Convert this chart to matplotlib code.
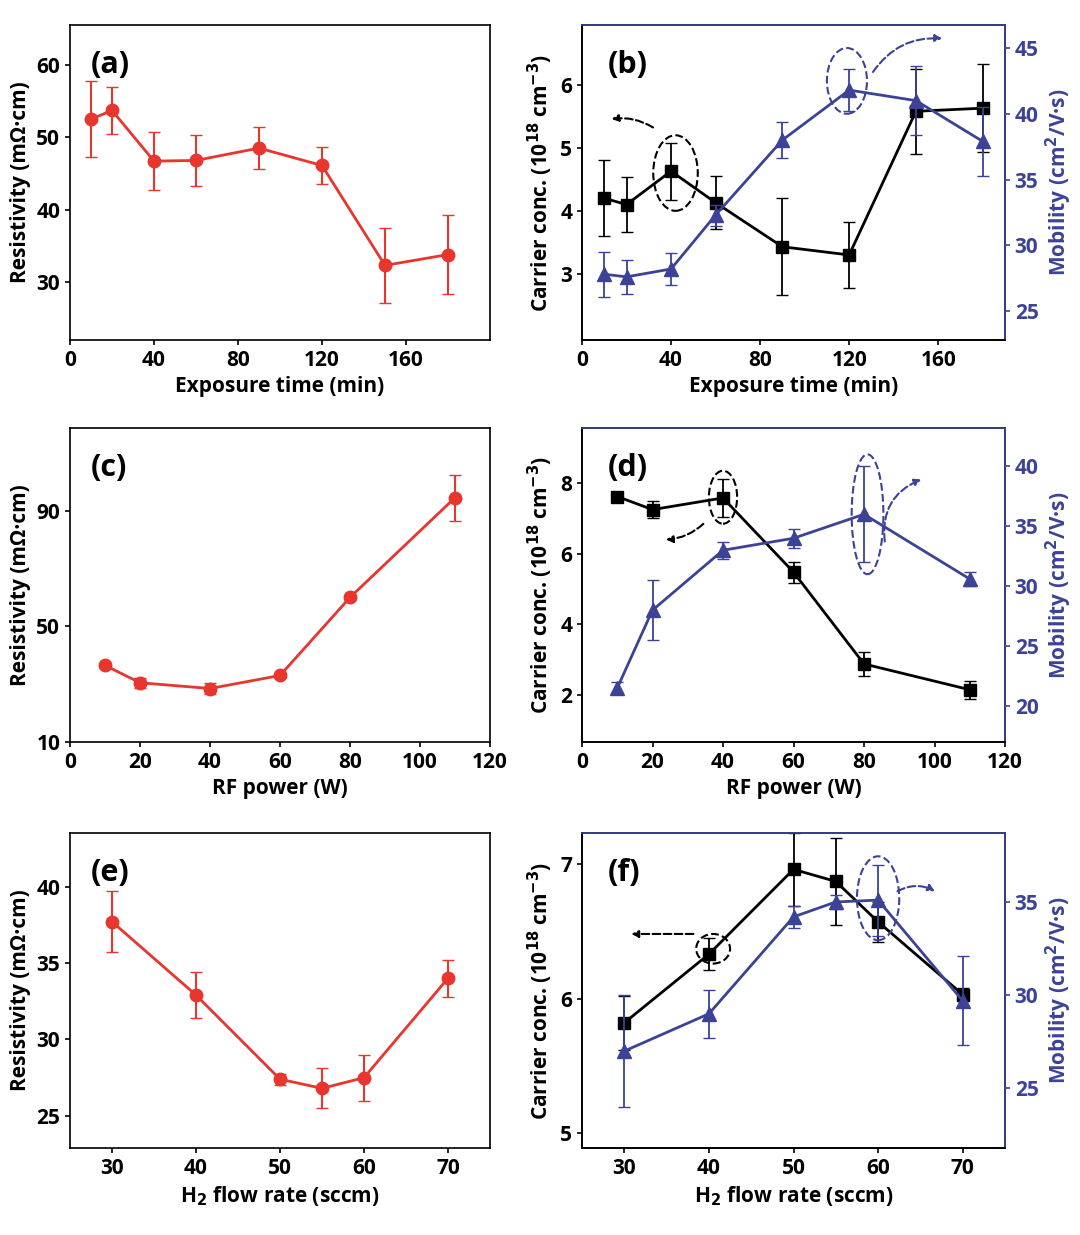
import matplotlib.pyplot as plt
from matplotlib.patches import Ellipse

plt.rcParams['font.family'] = ['Open Sans', 'DejaVu Sans']
plt.rcParams['font.weight'] = 'bold'
plt.rcParams['axes.labelweight'] = 'bold'

red = '#e8352e'
blue = '#3c4396'

# (a)/(b) exposure time
t_exp = [10, 20, 40, 60, 90, 120, 150, 180]
res_a = [52.5, 53.7, 46.7, 46.8, 48.5, 46.1, 32.3, 33.8]
res_a_err = [5.2, 3.2, 4.0, 3.5, 2.9, 2.5, 5.2, 5.4]
cc_b = [4.2, 4.1, 4.63, 4.13, 3.43, 3.3, 5.58, 5.63]
cc_b_err = [0.6, 0.43, 0.45, 0.42, 0.77, 0.52, 0.67, 0.7]
mob_b = [27.8, 27.6, 28.2, 32.3, 38.0, 41.8, 41.0, 37.9]
mob_b_err = [1.7, 1.3, 1.2, 0.8, 1.4, 1.6, 2.6, 2.6]

# (c)/(d) RF power
rf = [10, 20, 40, 60, 80, 110]
res_c = [36.5, 30.5, 28.5, 33.0, 60.0, 94.5]
res_c_err = [0.8, 1.8, 2.0, 0.8, 0.8, 8.0]
cc_d = [7.62, 7.25, 7.58, 5.48, 2.88, 2.15]
cc_d_err = [0.12, 0.25, 0.55, 0.3, 0.35, 0.25]
mob_d = [21.5, 28.0, 33.0, 34.0, 36.0, 30.6]
mob_d_err = [0.5, 2.5, 0.7, 0.8, 4.0, 0.6]

# (e)/(f) H2 flow
h2 = [30, 40, 50, 55, 60, 70]
res_e = [37.7, 32.9, 27.4, 26.8, 27.5, 34.0]
res_e_err = [2.0, 1.5, 0.35, 1.3, 1.5, 1.2]
cc_f = [5.82, 6.33, 6.96, 6.87, 6.57, 6.03]
cc_f_err = [0.2, 0.12, 0.27, 0.32, 0.15, 0.05]
mob_f = [27.0, 29.0, 34.2, 35.0, 35.1, 29.7]
mob_f_err = [3.0, 1.3, 0.6, 0.4, 1.9, 2.4]

fig = plt.figure(figsize=(10.8, 12.35), dpi=100)
W, H = 1080, 1235

def ax_at(x0, y0, x1, y1):
    return fig.add_axes([x0 / W, 1 - y1 / H, (x1 - x0) / W, (y1 - y0) / H])

rows = [(25, 340), (428, 742), (833, 1148)]
fs = 15

def style(ax):
    ax.tick_params(labelsize=fs, width=1.2, direction='out')
    for s in ax.spines.values():
        s.set_linewidth(1.2)

def left_panel(ax, x, y, e, label, xlabel, xlim, xticks, ylim, yticks):
    ax.errorbar(x, y, yerr=e, color=red, marker='o', ms=9, lw=2, capsize=4, elinewidth=1.5)
    ax.set_xlim(*xlim); ax.set_xticks(xticks)
    ax.set_ylim(*ylim); ax.set_yticks(yticks)
    ax.set_ylabel('Resistivity (mΩ·cm)', fontsize=fs)
    ax.set_xlabel(xlabel, fontsize=fs)
    ax.text(0.05, 0.92, label, transform=ax.transAxes, fontsize=22, va='top')
    style(ax)

def right_panel(ax, x, c, ce, m, me, label, xlabel, xlim, xticks, ylim, yticks, y2lim, y2ticks):
    ax.errorbar(x, c, yerr=ce, color='black', marker='s', ms=8, lw=2, capsize=4, elinewidth=1.3, zorder=3)
    ax.set_xlim(*xlim); ax.set_xticks(xticks)
    ax.set_ylim(*ylim); ax.set_yticks(yticks)
    ax.set_ylabel('Carrier conc. (10$^{\\mathbf{18}}$ cm$^{\\mathbf{-3}}$)', fontsize=fs)
    ax.set_xlabel(xlabel, fontsize=fs)
    ax.text(0.06, 0.92, label, transform=ax.transAxes, fontsize=22, va='top')
    style(ax)
    ax2 = ax.twinx()
    ax2.errorbar(x, m, yerr=me, color=blue, marker='^', ms=10, lw=2, capsize=4, elinewidth=1.3)
    ax2.set_ylim(*y2lim); ax2.set_yticks(y2ticks)
    ax2.set_ylabel('Mobility (cm$^{\\mathbf{2}}$/V·s)', fontsize=fs, color=blue)
    style(ax2)
    ax2.tick_params(axis='y', colors=blue)
    ax2.spines['right'].set_color(blue)
    ax2.spines['top'].set_color(blue)
    return ax2

def oval(ax, xy, w, h, color):
    ax.add_patch(Ellipse(xy, w, h, fill=False, ls='--', lw=1.5, ec=color, zorder=5))

def arrow(ax, start, end, color, rad=0.0):
    ax.annotate('', xy=end, xytext=start,
                arrowprops=dict(arrowstyle='-|>', ls='--', lw=1.5, color=color,
                                connectionstyle=f'arc3,rad={rad}'))

xl, xr = (70, 490), (582, 1005)

# row 1
a = ax_at(xl[0], rows[0][0], xl[1], rows[0][1])
left_panel(a, t_exp, res_a, res_a_err, '(a)', 'Exposure time (min)', (0, 200),
           [0, 40, 80, 120, 160], (22, 65.5), [30, 40, 50, 60])
b = ax_at(xr[0], rows[0][0], xr[1], rows[0][1])
b2 = right_panel(b, t_exp, cc_b, cc_b_err, mob_b, mob_b_err, '(b)', 'Exposure time (min)', (0, 190),
                 [0, 40, 80, 120, 160], (1.95, 6.95), [3, 4, 5, 6], (22.8, 46.75), [25, 30, 35, 40, 45])
oval(b, (42, 4.6), 20, 1.2, 'black')
arrow(b, (33, 5.3), (12, 5.45), 'black', rad=0.2)
oval(b2, (119, 42.5), 18, 5, blue)
arrow(b2, (130, 43), (163, 45.7), blue, rad=-0.3)

# row 2
c = ax_at(xl[0], rows[1][0], xl[1], rows[1][1])
left_panel(c, rf, res_c, res_c_err, '(c)', 'RF power (W)', (0, 120),
           [0, 20, 40, 60, 80, 100, 120], (10, 118.6), [10, 50, 90])
d = ax_at(xr[0], rows[1][0], xr[1], rows[1][1])
d2 = right_panel(d, rf, cc_d, cc_d_err, mob_d, mob_d_err, '(d)', 'RF power (W)', (0, 120),
                 [0, 20, 40, 60, 80, 100, 120], (0.67, 9.56), [2, 4, 6, 8], (17, 43.2), [20, 25, 30, 35, 40])
oval(d, (40, 7.6), 8, 1.5, 'black')
arrow(d, (35, 6.9), (23, 6.4), 'black', rad=-0.2)
oval(d2, (81, 36), 9, 10, blue)
arrow(d2, (86, 33.5), (97, 39), blue, rad=-0.4)

# row 3
e = ax_at(xl[0], rows[2][0], xl[1], rows[2][1])
left_panel(e, h2, res_e, res_e_err, '(e)', 'H$_\\mathbf{2}$ flow rate (sccm)', (25, 75),
           [30, 40, 50, 60, 70], (22.9, 43.5), [25, 30, 35, 40])
f = ax_at(xr[0], rows[2][0], xr[1], rows[2][1])
f2 = right_panel(f, h2, cc_f, cc_f_err, mob_f, mob_f_err, '(f)', 'H$_\\mathbf{2}$ flow rate (sccm)', (25, 75),
                 [30, 40, 50, 60, 70], (4.89, 7.23), [5, 6, 7], (21.8, 38.7), [25, 30, 35])
oval(f, (40.5, 6.37), 4, 0.22, 'black')
arrow(f, (38.5, 6.48), (30.5, 6.48), 'black')
oval(f2, (60, 35.2), 5, 4.5, blue)
arrow(f2, (62, 35.5), (67, 35.5), blue, rad=-0.3)

fig.savefig('out.png', dpi=100)
